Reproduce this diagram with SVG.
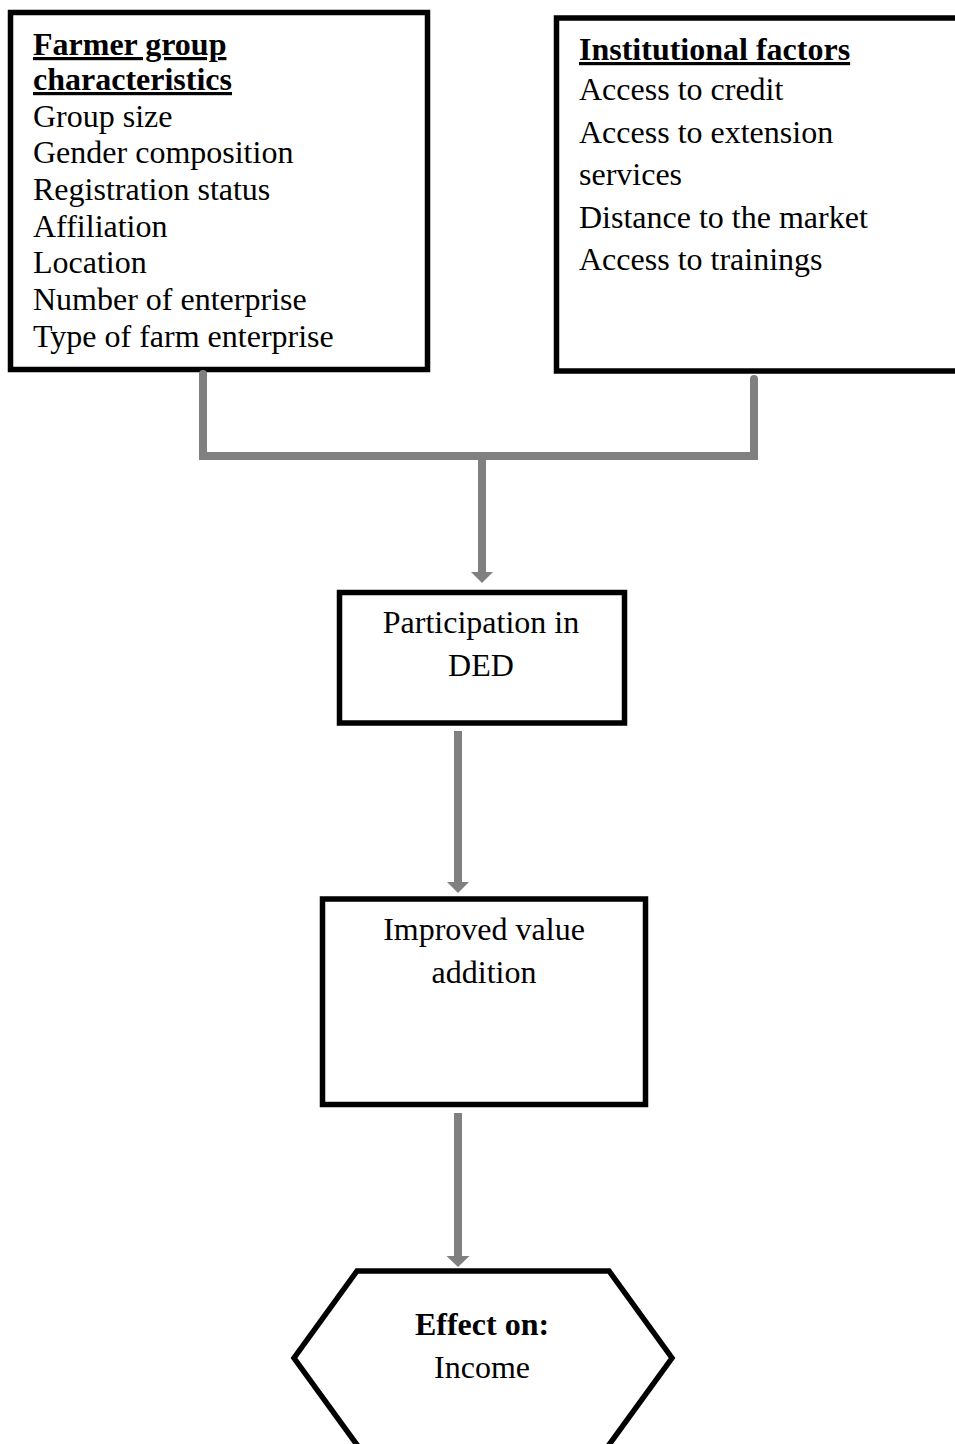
<svg xmlns="http://www.w3.org/2000/svg" width="955" height="1444" viewBox="0 0 955 1444">
<style>
.box{fill:#fff;stroke:#000;stroke-width:5.5}
.t{font-family:"Liberation Serif","Times New Roman",serif;font-size:32px;fill:#000}
.b{font-weight:bold;text-decoration:underline}
.c{text-anchor:middle}
.con{fill:none;stroke:#808080;stroke-width:8;stroke-linecap:round}
.ar{fill:none;stroke:#808080;stroke-width:8}
.hd{fill:#808080}
</style>
<rect width="955" height="1444" fill="#fff"/>
<g id="farmer-group">
<rect class="box" x="10.5" y="12.5" width="417" height="357"/>
<text class="t b" x="33" y="55">Farmer group</text>
<text class="t b" x="33" y="90">characteristics</text>
<text class="t" x="33" y="127">Group size</text>
<text class="t" x="33" y="163">Gender composition</text>
<text class="t" x="33" y="200">Registration status</text>
<text class="t" x="33" y="237">Affiliation</text>
<text class="t" x="33" y="273">Location</text>
<text class="t" x="33" y="310">Number of enterprise</text>
<text class="t" x="33" y="347">Type of farm enterprise</text>
</g>
<g id="institutional">
<rect class="box" x="556.5" y="18" width="410" height="353"/>
<text class="t b" x="579" y="60">Institutional factors</text>
<text class="t" x="579" y="100">Access to credit</text>
<text class="t" x="579" y="143">Access to extension</text>
<text class="t" x="579" y="185">services</text>
<text class="t" x="579" y="228">Distance to the market</text>
<text class="t" x="579" y="270">Access to trainings</text>
</g>
<g id="participation">
<rect class="box" x="339.5" y="592.5" width="285" height="130.5"/>
<text class="t c" x="481" y="633">Participation in</text>
<text class="t c" x="481" y="676">DED</text>
</g>
<g id="value-addition">
<rect class="box" x="322.5" y="899" width="323" height="205.5"/>
<text class="t c" x="484" y="940">Improved value</text>
<text class="t c" x="484" y="983">addition</text>
</g>
<g id="effect">
<polygon class="box" points="357,1271 609,1271 672,1358 598,1460 368,1460 294,1358"/>
<text class="t c" x="482" y="1335" font-weight="bold">Effect on:</text>
<text class="t c" x="482" y="1378">Income</text>
</g>
<g id="connectors">
<path class="con" d="M203,374 V456 H754 V379"/>
<line class="ar" x1="482" y1="456" x2="482" y2="573"/>
<polygon class="hd" points="471,572 493,572 482,583"/>
<line class="ar" x1="458" y1="731" x2="458" y2="883"/>
<polygon class="hd" points="447,882 469,882 458,893"/>
<line class="ar" x1="458" y1="1113" x2="458" y2="1257"/>
<polygon class="hd" points="446.5,1256 469.5,1256 458,1267"/>
</g>
</svg>
